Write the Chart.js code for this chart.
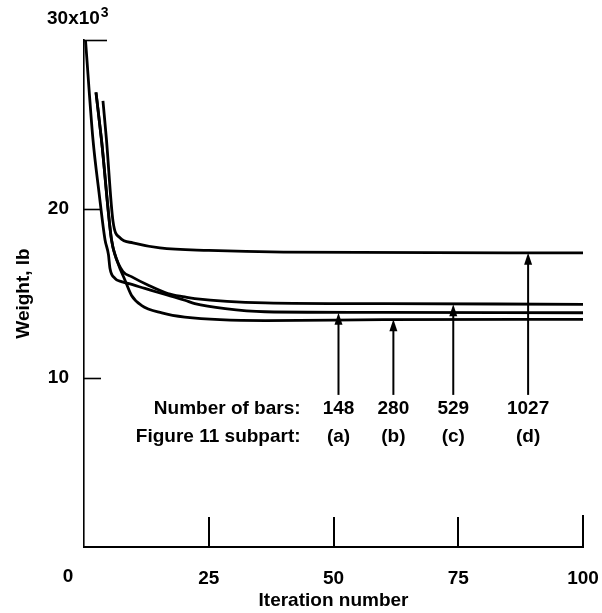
<!DOCTYPE html>
<html>
<head>
<meta charset="utf-8">
<script src="https://cdn.jsdelivr.net/npm/chart.js@4"></script>
<style>
  html, body { margin: 0; padding: 0; background: #fff; }
</style>
</head>
<body>
<canvas id="myChart" width="602" height="613"></canvas>
<script>
// weight in thousands of lb against iteration number, one pair of arrays per run
const iterA = [0.3, 1.8, 3.0, 4.2, 4.9, 5.2, 6.2, 7.5, 8.8, 12.2, 15.6, 20.2, 22.2, 28.3, 36.3, 60, 100];
const weightA = [30.0, 24.1, 21.0, 18.2, 17.3, 16.5, 15.9, 15.7, 15.6, 15.3, 15.0, 14.6, 14.4, 14.1, 13.92, 13.88, 13.86];

const iterB = [2.4, 3.5, 5.5, 6.8, 8.2, 9.5, 11.5, 15.6, 20.2, 36.3, 60, 100];
const weightB = [26.9, 24.1, 18.2, 16.8, 15.8, 14.9, 14.3, 13.85, 13.6, 13.4, 13.45, 13.47];

const iterC = [2.4, 3.5, 5.5, 6.2, 7.8, 9.5, 12.8, 16.8, 20.2, 22.2, 36.3, 60, 100];
const weightC = [26.9, 24.1, 18.2, 17.3, 16.3, 16.0, 15.5, 15.0, 14.8, 14.7, 14.45, 14.4, 14.36];

const iterD = [3.8, 4.5, 5.8, 7.2, 9.8, 15.2, 25, 40, 100];
const weightD = [26.4, 24.1, 19.3, 18.3, 18.0, 17.7, 17.55, 17.45, 17.4];

// annotation: which run each arrow points at
const barCounts = ['148', '280', '529', '1027'];
const subparts = ['(a)', '(b)', '(c)', '(d)'];
const arrowIter = [51, 62, 74, 89];
const arrowTip = [13.86, 13.47, 14.36, 17.41];
const arrowTail = 9.0;

const xTicks = [0, 25, 50, 75, 100];
const yTicks = [0, 10, 20, 30];

const FONT = 'Liberation Sans, Arial, sans-serif';
const FS = 19;

function toPoints(xs, ys) {
    return xs.map((x, i) => ({ x: x, y: ys[i] }));
}

const curves = [
    toPoints(iterA, weightA),
    toPoints(iterB, weightB),
    toPoints(iterC, weightC),
    toPoints(iterD, weightD)
];

const datasets = curves.map(pts => ({
    data: pts,
    borderColor: '#000',
    borderWidth: 2.8,
    pointRadius: 0,
    cubicInterpolationMode: 'monotone',
    fill: false
}));

// arrow shafts
arrowIter.forEach((x, i) => {
    datasets.push({
        data: [{ x: x, y: arrowTail }, { x: x, y: arrowTip[i] - 0.45 }],
        borderColor: '#000',
        borderWidth: 2,
        pointRadius: 0,
        fill: false
    });
});

const extras = {
    id: 'extras',
    afterDraw(chart) {
        const ctx = chart.ctx;
        const xs = chart.scales.x;
        const ys = chart.scales.y;
        const left = xs.getPixelForValue(0);
        const bottom = ys.getPixelForValue(0);
        ctx.save();
        ctx.strokeStyle = '#000';
        ctx.fillStyle = '#000';

        // inward tick marks
        ctx.lineWidth = 2;
        xTicks.slice(1).forEach(v => {
            const px = Math.round(xs.getPixelForValue(v));
            ctx.beginPath();
            ctx.moveTo(px, bottom);
            ctx.lineTo(px, bottom - (v === 100 ? 32 : 30));
            ctx.stroke();
        });
        ctx.lineWidth = 1.6;
        yTicks.slice(1).forEach(v => {
            const py = Math.round(ys.getPixelForValue(v)) + 0.5;
            ctx.beginPath();
            ctx.moveTo(left, py);
            ctx.lineTo(left + (v === 30 ? 23 : 17), py);
            ctx.stroke();
        });

        // arrow heads
        arrowIter.forEach((x, i) => {
            const px = xs.getPixelForValue(x);
            const py = ys.getPixelForValue(arrowTip[i]);
            ctx.beginPath();
            ctx.moveTo(px, py);
            ctx.lineTo(px - 4, py + 12);
            ctx.lineTo(px + 4, py + 12);
            ctx.closePath();
            ctx.fill();
        });

        // text
        ctx.font = 'bold ' + FS + 'px ' + FONT;
        ctx.textBaseline = 'middle';
        ctx.textAlign = 'center';
        ctx.fillText('0', left - 16, bottom + 30);

        const topY = ys.getPixelForValue(30) - 21;
        ctx.textAlign = 'left';
        ctx.fillText('30x10', left - 37, topY);
        const w = ctx.measureText('30x10').width;
        ctx.font = 'bold 14px ' + FONT;
        ctx.fillText('3', left - 37 + w + 1, topY - 6);

        ctx.font = 'bold ' + FS + 'px ' + FONT;
        const row1 = ys.getPixelForValue(8.2);
        const row2 = ys.getPixelForValue(6.55);
        ctx.textAlign = 'right';
        ctx.fillText('Number of bars:', xs.getPixelForValue(43.4), row1);
        ctx.fillText('Figure 11 subpart:', xs.getPixelForValue(43.4), row2);
        ctx.textAlign = 'center';
        arrowIter.forEach((x, i) => {
            const px = xs.getPixelForValue(x);
            ctx.fillText(barCounts[i], px, row1);
            ctx.fillText(subparts[i], px, row2);
        });
        ctx.restore();
    }
};

new Chart(document.getElementById('myChart'), {
    type: 'line',
    data: { datasets: datasets },
    options: {
        responsive: false,
        animation: false,
        devicePixelRatio: 1,
        layout: { padding: { top: 40, right: 19, left: 0, bottom: 0 } },
        plugins: { legend: { display: false }, tooltip: { enabled: false } },
        scales: {
            x: {
                type: 'linear',
                min: 0,
                max: 100,
                afterBuildTicks: s => { s.ticks = xTicks.map(v => ({ value: v })); },
                afterFit: s => {
                    s.height = 66;
                    s.paddingLeft = 0;
                    s.paddingRight = 0;
                },
                grid: { display: false, drawTicks: false },
                border: { color: '#000', width: 2 },
                ticks: {
                    color: '#000',
                    padding: 20,
                    maxRotation: 0,
                    font: { family: FONT, size: FS, weight: 'bold' },
                    callback: v => (v === 0 ? '' : v)
                },
                title: {
                    display: true,
                    text: 'Iteration number',
                    color: '#000',
                    font: { family: FONT, size: FS, weight: 'bold' },
                    padding: { top: 0, bottom: 1 }
                }
            },
            y: {
                type: 'linear',
                min: 0,
                max: 30,
                afterBuildTicks: s => { s.ticks = yTicks.map(v => ({ value: v })); },
                afterFit: s => {
                    s.width = 84;
                    s.paddingTop = 0;
                    s.paddingBottom = 0;
                },
                grid: { display: false, drawTicks: false },
                border: { color: '#000', width: 1.6 },
                ticks: {
                    color: '#000',
                    padding: 15,
                    font: { family: FONT, size: FS, weight: 'bold' },
                    callback: v => (v === 0 || v === 30 ? '' : v)
                },
                title: {
                    display: true,
                    text: 'Weight, lb',
                    color: '#000',
                    font: { family: FONT, size: FS, weight: 'bold' },
                    padding: { top: 12, bottom: 0 }
                }
            }
        }
    },
    plugins: [extras]
});
</script>
</body>
</html>
